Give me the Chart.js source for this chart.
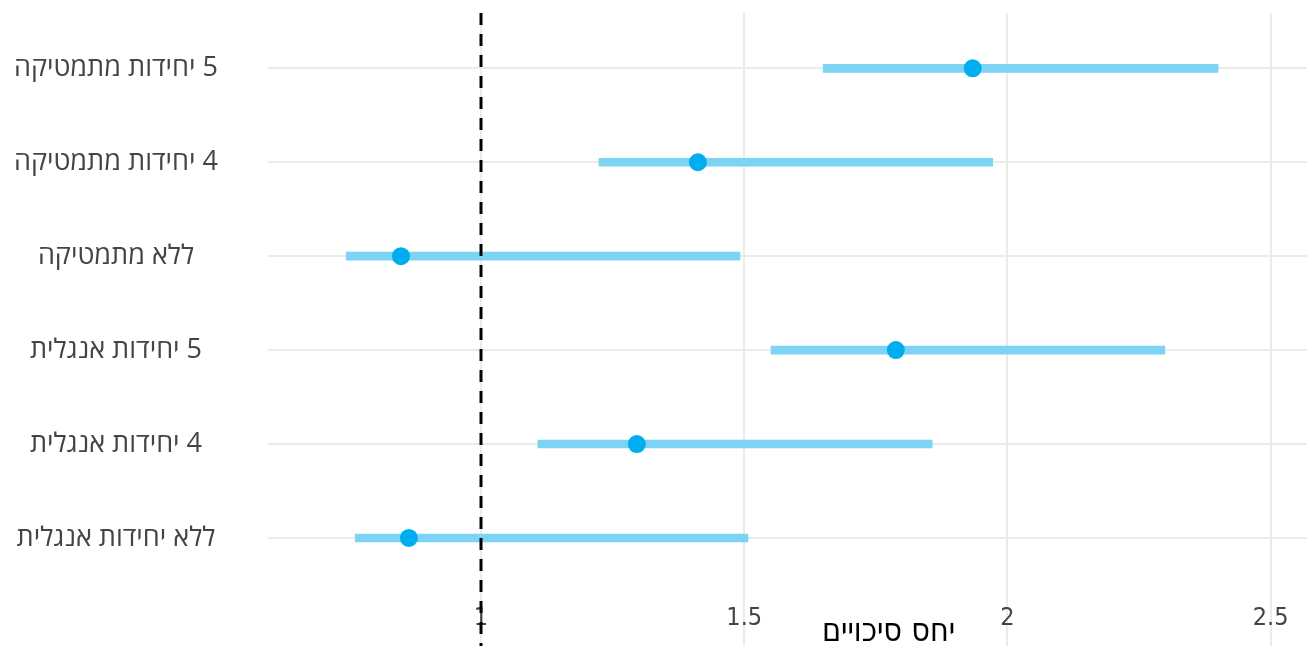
<!DOCTYPE html>
<html lang="he">
<head>
    <meta charset="UTF-8">
    <title>יחס סיכויים</title>
    <script src="https://cdn.jsdelivr.net/npm/chart.js"></script>
    <style>
        html, body { margin: 0; padding: 0; background: #fff; overflow: hidden; }
        #wrap { width: 1307px; height: 646px; position: relative; }
    </style>
</head>
<body>
    <div id="wrap"><canvas id="orChart" dir="rtl"></canvas></div>
    <script>
        // נתונים
        const categories = ['5 יחידות מתמטיקה', '4 יחידות מתמטיקה', 'ללא מתמטיקה', '5 יחידות אנגלית', '4 יחידות אנגלית', 'ללא יחידות אנגלית'];
        const oddsRatio = [1.934, 1.412, 0.848, 1.788, 1.296, 0.863];
        const ciLow = [1.650, 1.224, 0.744, 1.551, 1.108, 0.761];
        const ciHigh = [2.400, 1.972, 1.492, 2.299, 1.857, 1.507];
        const xTicks = [1, 1.5, 2, 2.5];
        const refLine = 1;
        const axisTitle = 'יחס סיכויים';

        const gridColor = '#ebebeb';
        const tickFont = '"Liberation Sans Narrow", "DejaVu Sans Condensed", "Open Sans", sans-serif';

        // קו מקווקו בערך 1
        const refLinePlugin = {
            id: 'refLine',
            afterDatasetsDraw(chart) {
                const ctx = chart.ctx;
                const x = chart.scales.x.getPixelForValue(refLine);
                ctx.save();
                ctx.strokeStyle = '#000';
                ctx.lineWidth = 3;
                ctx.setLineDash([12, 9]);
                ctx.beginPath();
                ctx.moveTo(x, chart.chartArea.top);
                ctx.lineTo(x, chart.height);
                ctx.stroke();
                ctx.restore();
            }
        };

        // כותרת ציר x
        const axisTitlePlugin = {
            id: 'axisTitle',
            afterDraw(chart) {
                const ctx = chart.ctx;
                const area = chart.chartArea;
                ctx.save();
                ctx.font = '32px ' + tickFont;
                ctx.fillStyle = '#000';
                ctx.textAlign = 'center';
                ctx.textBaseline = 'middle';
                ctx.fillText(axisTitle, (area.left + area.right) / 2 + 101, 633);
                ctx.restore();
            }
        };

        const ctxOr = document.getElementById('orChart').getContext('2d');
        new Chart(ctxOr, {
            type: 'bar',
            data: {
                datasets: [{
                    type: 'scatter',
                    data: oddsRatio.map((v, i) => ({ x: v, y: i })),
                    pointRadius: 9,
                    pointHoverRadius: 9,
                    pointBackgroundColor: '#00aeef',
                    pointBorderWidth: 0,
                    order: 0
                }, {
                    type: 'bar',
                    indexAxis: 'y',
                    data: categories.map((c, i) => ({ x: [ciLow[i], ciHigh[i]], y: i })),
                    backgroundColor: '#7dd3f4',
                    borderWidth: 0,
                    barThickness: 8,
                    order: 1
                }]
            },
            options: {
                responsive: true,
                maintainAspectRatio: false,
                animation: false,
                layout: { autoPadding: false, padding: { top: 13, right: 0, bottom: 0, left: 0 } },
                plugins: {
                    legend: { display: false },
                    tooltip: { enabled: false }
                },
                scales: {
                    x: {
                        type: 'linear',
                        position: 'bottom',
                        offset: false,
                        min: 0.5954,
                        max: 2.569,
                        afterBuildTicks: scale => { scale.ticks = xTicks.map(v => ({ value: v })); },
                        afterFit: scale => { scale.height = 56; scale.paddingLeft = 0; scale.paddingRight = 0; },
                        border: { display: false },
                        grid: { offset: false, color: gridColor, lineWidth: 2, drawTicks: true, tickLength: 56 },
                        ticks: {
                            color: '#444',
                            font: { family: tickFont, size: 25 },
                            padding: -43,
                            maxRotation: 0,
                            callback: v => String(v)
                        }
                    },
                    y: {
                        type: 'linear',
                        reverse: true,
                        offset: false,
                        min: -0.589,
                        max: 5.554,
                        afterBuildTicks: scale => { scale.ticks = categories.map((c, i) => ({ value: i })); },
                        afterFit: scale => { scale.width = 268; scale.paddingTop = 0; scale.paddingBottom = 0; },
                        border: { display: false },
                        grid: { offset: false, color: gridColor, lineWidth: 2, drawTicks: false },
                        ticks: {
                            color: '#444',
                            font: { family: '"Open Sans", "DejaVu Sans", sans-serif', size: 27 },
                            crossAlign: 'center',
                            padding: 50,
                            callback: v => categories[v]
                        }
                    }
                }
            },
            plugins: [refLinePlugin, axisTitlePlugin]
        });
    </script>
</body>
</html>
